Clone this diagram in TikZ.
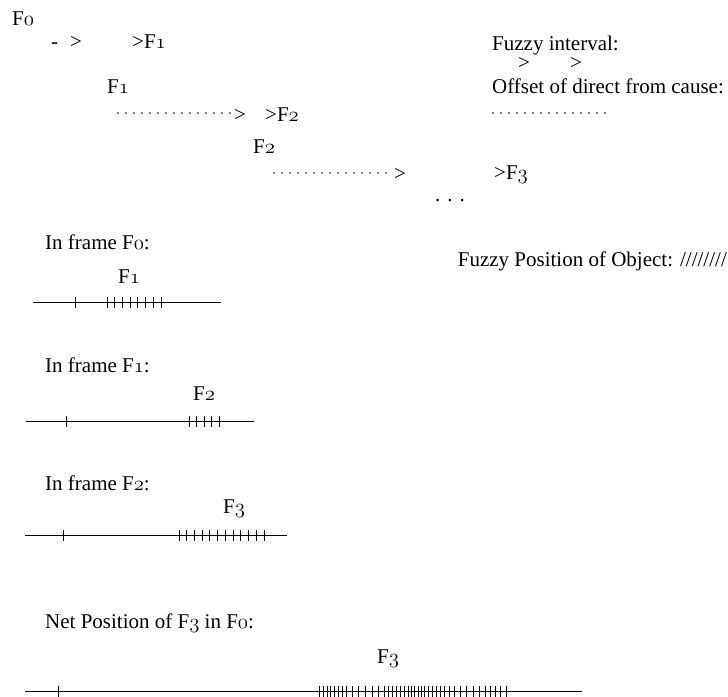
\documentclass[tikz,border=0pt]{standalone}
\usepackage{fontspec}
\setmainfont{Liberation Serif}
\newcommand\osf[1]{{\fontencoding{OML}\fontfamily{cmm}\fontseries{m}\fontshape{it}\selectfont #1}}
\begin{document}
\begin{tikzpicture}[x=1pt,y=-1pt,
  every node/.style={font=\fontsize{21}{25}\selectfont},
  lbl/.style={anchor=base west, inner sep=0pt},
  clbl/.style={anchor=base, inner sep=0pt},
  rlbl/.style={anchor=base east, inner sep=0pt},
  axisline/.style={line width=1pt},
  tk/.style={line width=0.9pt},
  dotline/.style={line width=1.7pt, line cap=round, dash pattern=on 0pt off 8pt}]
\useasboundingbox (0,0) rectangle (728,696);
% ---- top chain ----
\node[lbl] (f0) at (12,25) {F\osf{0}};
\node[lbl] (m1) at (51,48) {-};
\node[lbl] (a1) at (70,48) {>};
\node[lbl] (g1) at (132,48) {>F\osf{1}};
\node[lbl] (f1) at (107,93) {F\osf{1}};
\coordinate (d1s) at (118,113);
\coordinate (d1e) at (230,113);
\node[lbl] (a2) at (234,121) {>};
\draw[dotline] (d1s) -- (d1e);
\node[lbl] (g2) at (265,121) {>F\osf{2}};
\node[lbl] (f2) at (253,153) {F\osf{2}};
\coordinate (d2s) at (274,173);
\coordinate (d2e) at (390,173);
\node[lbl] (a3) at (394,180) {>};
\draw[dotline] (d2s) -- (d2e);
\node[lbl] (g3) at (494,179) {>F\osf{3}};
\node[clbl] (ell) at (450,201) {.\,\,.\,\,.};
% ---- legend ----
\node[lbl] (fi) at (492,50) {Fuzzy interval:};
\node[lbl] (fa) at (518,69) {>};
\node[lbl] (fb) at (570,69) {>};
\node[lbl] (od) at (492,93) {Offset of direct from cause:};
\coordinate (ods) at (493,113);
\coordinate (ode) at (605,113);
\draw[dotline] (ods) -- (ode);
\node[rlbl] (fp) at (727,266) {Fuzzy Position of Object: ////////};
% ---- frame F0 ----
\node[lbl] (h0) at (45,249) {In frame F\osf{0}:};
\node[lbl] (l0) at (118,283) {F\osf{1}};
\draw[axisline] (33,302) -- (221,302);
\draw[tk] (75,296.5) -- (75,307.5);
\foreach \i in {0,...,7} \draw[tk] (107+\i*7.714,296.5) -- (107+\i*7.714,307.5);
% ---- frame F1 ----
\node[lbl] (h1) at (45,372) {In frame F\osf{1}:};
\node[lbl] (l1) at (193,400) {F\osf{2}};
\draw[axisline] (26,421) -- (254,421);
\draw[tk] (66,415.5) -- (66,426.5);
\foreach \i in {0,...,4} \draw[tk] (189+\i*7.5,415.5) -- (189+\i*7.5,426.5);
% ---- frame F2 ----
\node[lbl] (h2) at (45,490) {In frame F\osf{2}:};
\node[lbl] (l2) at (223,513) {F\osf{3}};
\draw[axisline] (25,535) -- (287,535);
\draw[tk] (63,529.5) -- (63,540.5);
\foreach \i in {0,...,11} \draw[tk] (179+\i*7.727,529.5) -- (179+\i*7.727,540.5);
% ---- net ----
\node[lbl] (hn) at (45,628) {Net Position of F\osf{3} in F\osf{0}:};
\node[lbl] (ln) at (377,663) {F\osf{3}};
\draw[axisline] (25,691) -- (582,691);
\draw[tk] (58,685.5) -- (58,696.5);
\foreach \x in {319.3,323.3,327,330.7,334.3,338,342,346,352,358.3,365,372,378.7,384,388.3,392.7,396.7,400.7,404.3,408,411.3,414.7,418,421.3,424.7,428.3,432,436,440,444.3,449,454,460,466.7,473.3,479.3,485,490,495,500.7,506}
  \draw[tk] (\x,685.5) -- (\x,696.5);
\end{tikzpicture}
\end{document}
